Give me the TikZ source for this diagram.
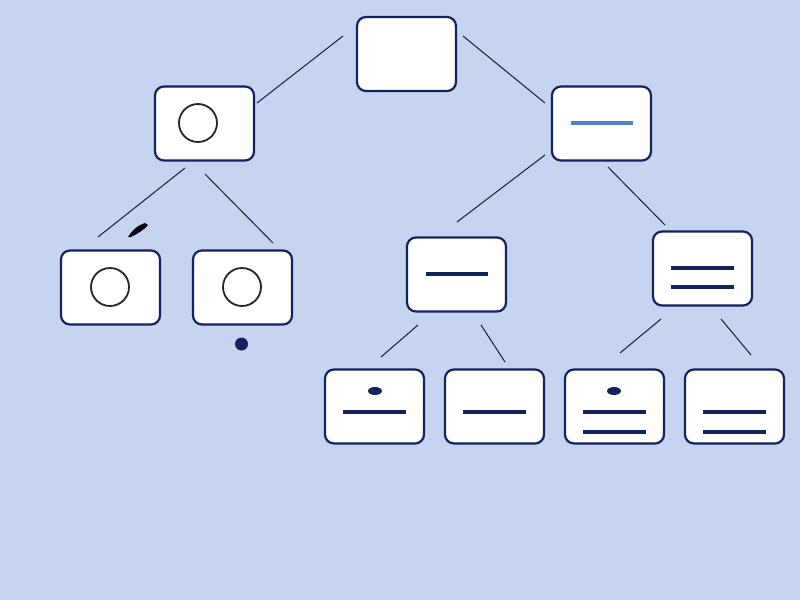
\documentclass[tikz,border=0pt]{standalone}
\begin{document}
\begin{tikzpicture}[x=1pt,y=-1pt,
  box/.style={draw=navy,line width=2.2pt,fill=white,rounded corners=9pt,minimum width=99pt,minimum height=74pt,inner sep=0pt},
  conn/.style={draw=navy!80!black,line width=1pt},
  bar/.style={draw=navy,line width=4pt},
  ring/.style={draw=black!85,line width=1.8pt}]
\definecolor{navy}{RGB}{20,35,95}
\definecolor{bgc}{RGB}{198,212,240}
\definecolor{lblue}{RGB}{80,130,205}
\fill[bgc] (0,0) rectangle (800,600);
\useasboundingbox (0,0) rectangle (800,600);
% nodes
\node[box] (top) at (406.5,54) {};
\node[box] (L) at (204.5,123.5) {};
\node[box] (R) at (601.5,123.5) {};
\node[box] (A) at (110.5,287.5) {};
\node[box] (B) at (242.5,287.5) {};
\node[box] (C) at (456.5,274.5) {};
\node[box] (D) at (702.5,268.5) {};
\node[box] (E) at (374.5,406.5) {};
\node[box] (F) at (494.5,406.5) {};
\node[box] (G) at (614.5,406.5) {};
\node[box] (H) at (734.5,406.5) {};
% contents
\draw[ring] (198,123) circle (19);
\draw[ring] (110,287) circle (19);
\draw[ring] (242,287) circle (19);
\draw[draw=lblue,line width=4pt] (571,123) -- (633,123);
\draw[bar] (426,274) -- (488,274);
\draw[bar] (671,268) -- (734,268);
\draw[bar] (671,287) -- (734,287);
\fill[navy] (375,391) ellipse (7 and 4);
\draw[bar] (343,412) -- (406,412);
\draw[bar] (463,412) -- (526,412);
\fill[navy] (614,391) ellipse (7 and 4);
\draw[bar] (583,412) -- (646,412);
\draw[bar] (583,432) -- (646,432);
\draw[bar] (703,412) -- (766,412);
\draw[bar] (703,432) -- (766,432);
% extra marks
\fill[black!85!navy] (128,237) .. controls (131,232) and (136,226) .. (145,223) -- (148,225) .. controls (144,230) and (137,234) .. (131,237) -- cycle;
\fill[navy] (241.5,344) circle (6.5);
% connector endpoints
\coordinate (t1) at (343,36); \coordinate (l1) at (257,103);
\coordinate (t2) at (463,36); \coordinate (r1) at (545,103);
\coordinate (l2) at (185,168); \coordinate (a1) at (98,237);
\coordinate (l3) at (205,174); \coordinate (b1) at (273,243);
\coordinate (r2) at (545,155); \coordinate (c1) at (457,222);
\coordinate (r3) at (608,167); \coordinate (d1) at (665,225);
\coordinate (c2) at (418,325); \coordinate (e1) at (381,357);
\coordinate (c3) at (481,325); \coordinate (f1) at (505,362);
\coordinate (d2) at (661,319); \coordinate (g1) at (620,353);
\coordinate (d3) at (721,319); \coordinate (h1) at (751,355);
\draw[conn] (t1) -- (l1);
\draw[conn] (t2) -- (r1);
\draw[conn] (l2) -- (a1);
\draw[conn] (l3) -- (b1);
\draw[conn] (r2) -- (c1);
\draw[conn] (r3) -- (d1);
\draw[conn] (c2) -- (e1);
\draw[conn] (c3) -- (f1);
\draw[conn] (d2) -- (g1);
\draw[conn] (d3) -- (h1);
\end{tikzpicture}
\end{document}
